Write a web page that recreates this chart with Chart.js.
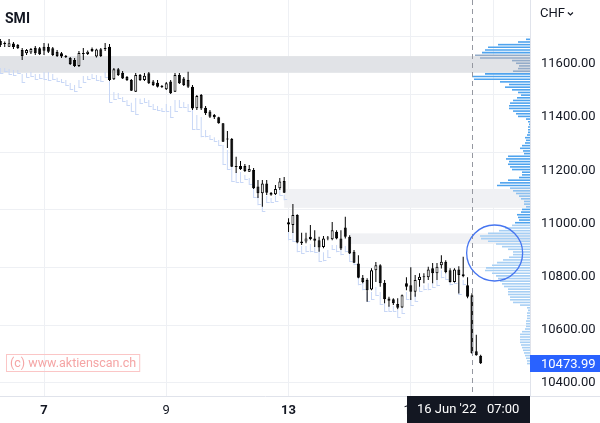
<!DOCTYPE html>
<html><head><meta charset="utf-8">
<style>html,body{margin:0;padding:0;background:#fff;}canvas{display:block;}</style>
<script src="https://cdn.jsdelivr.net/npm/chart.js@4/dist/chart.umd.min.js"></script>
</head><body>
<canvas id="c" width="600" height="423"></canvas>
<script>
// ---------------- data ----------------
const title = 'SMI';
const currency = 'CHF';
const firstIndex = -10;               // index of first candle (day 7 first candle = 0)
const xTickIdx = [0, 28, 56, 84, 103];
const xTickLabels = ['7', '9', '13', '15', '16'];
const xTickBold = [true, false, true, false, false];
const yLabelValues = [10400, 10600, 10800, 11000, 11200, 11400, 11600];
const yGridValues = [10400, 10618, 10833, 11051, 11269, 11484, 11702];

const opens = [
 11687,11679,11665,11677,11672,11653,11641,11643,11661,11659,
 11665,11664,11659,11645,11641,11628,11623,11615,11593,11638,
 11638,11657,11628,11656,11657,11665,11543,11580,11567,11551,
 11540,11496,11559,11540,11565,11534,11530,11516,11505,11534,
 11496,11559,11546,11540,11515,11434,11484,11436,11421,11408,
 11400,11377,11318,11318,11216,11216,11216,11195,11201,11139,
 11114,11151,11115,11110,11133,11160,11005,10994,11032,10932,
 10932,10950,10944,10937,10912,10944,10941,10969,10944,10985,
 10950,10894,10850,10796,10787,10752,10824,10843,10777,10718,
 10715,10697,10684,10775,10768,10743,10787,10801,10798,10832,
 10813,10843,10856,10824,10780,10827,10802,10768,10730,10519,
 10502];
const highs = [
 11694,11685,11694,11683,11675,11660,11657,11660,11668,11664,
 11679,11677,11664,11653,11645,11634,11627,11623,11649,11660,
 11651,11662,11658,11660,11679,11675,11585,11585,11574,11555,
 11544,11566,11563,11566,11570,11540,11540,11521,11532,11540,
 11566,11566,11551,11571,11521,11484,11487,11442,11427,11412,
 11402,11378,11348,11322,11251,11235,11224,11220,11209,11164,
 11164,11164,11119,11145,11171,11175,11020,11073,11035,10965,
 10965,10994,10975,10950,10953,10953,11006,10975,10975,11025,
 10956,10900,10881,10806,10794,10832,10855,10847,10787,10724,
 10719,10719,10733,10798,10835,10806,10813,10813,10837,10851,
 10851,10881,10862,10832,10832,10839,10875,10798,10738,10581,
 10506];
const lows = [
 11664,11664,11664,11657,11657,11615,11634,11638,11634,11634,
 11634,11642,11630,11627,11623,11623,11596,11589,11589,11615,
 11634,11645,11625,11627,11649,11536,11540,11555,11544,11536,
 11499,11495,11536,11536,11525,11517,11512,11510,11502,11487,
 11495,11525,11517,11510,11427,11427,11427,11408,11397,11393,
 11375,11307,11284,11213,11190,11201,11194,11194,11130,11096,
 11063,11107,11104,11107,11126,11115,10968,10964,10926,10919,
 10926,10937,10912,10894,10907,10937,10937,10941,10900,10944,
 10885,10851,10794,10775,10706,10749,10780,10762,10700,10687,
 10693,10677,10682,10749,10712,10724,10762,10775,10787,10775,
 10787,10831,10813,10778,10778,10737,10798,10719,10510,10502,
 10471];
const closes = [
 11672,11675,11678,11664,11660,11630,11653,11657,11641,11637,
 11650,11646,11634,11630,11628,11627,11600,11593,11642,11642,
 11646,11649,11655,11630,11660,11540,11580,11559,11546,11540,
 11500,11559,11540,11556,11528,11521,11515,11514,11528,11490,
 11559,11528,11521,11515,11433,11480,11433,11415,11402,11400,
 11377,11308,11316,11214,11213,11204,11198,11205,11133,11114,
 11151,11116,11108,11130,11158,11116,10996,11032,10929,10926,
 10944,10942,10935,10910,10944,10945,10975,10944,10906,10950,
 10887,10852,10796,10780,10749,10824,10843,10775,10715,10709,
 10700,10683,10730,10762,10743,10787,10800,10798,10827,10813,
 10837,10856,10818,10780,10827,10806,10809,10724,10513,10504,
 10474];
// light-blue shadow series (high / low)
const ghostHigh = [
 11585,11585,11581,11578,11578,11563,11566,11570,11563,11563,
 11570,11570,11563,11548,11544,11540,11529,11521,11540,11555,
 11555,11563,11559,11555,11570,11540,11495,11491,11476,11465,
 11454,11472,11469,11472,11465,11450,11442,11435,11450,11442,
 11465,11465,11457,11450,11427,11408,11401,11352,11333,11325,
 11314,11295,11277,11220,11194,11194,11183,11171,11134,11104,
 11096,11104,11096,11104,11126,11107,10968,10968,10926,10915,
 10915,10923,10919,10907,10892,10900,10919,10919,10907,10915,
 10889,10870,10832,10779,10742,10742,10761,10742,10705,10693,
 10690,10675,10682,10742,10720,10735,10764,10768,10775,10779,
 10787,10824,10813,10787,10794,10779,10787,null,null,null,
 null];
const ghostLow = [
 11563,11570,11559,11555,11563,11529,11548,11551,11540,11544,
 11540,11536,11540,11532,11529,11517,11502,11495,11510,11529,
 11540,11544,11536,11532,11548,11454,11465,11469,11457,11442,
 11420,11408,11450,11454,11438,11427,11423,11420,11420,11397,
 11420,11435,11435,11420,11352,11352,11325,11325,11314,11307,
 11292,11220,11201,11156,11153,11153,11164,11145,11096,11069,
 11043,11077,11077,11081,11104,11088,10937,10930,10892,10885,
 10892,10892,10889,10855,10858,10870,10900,10892,10881,10892,
 10855,10843,10768,10749,10705,10712,10727,10693,10667,10667,
 10667,10645,10660,10712,10690,10705,10742,10749,10749,10757,
 10764,10794,10787,10768,10772,10731,10768,null,null,null,
 null];

// volume profile, 10 CHF rows from 11690 downwards (relative volume)
const vpTop = 11690;
const vpStep = 10;
const vpVolume = [
 4,12,32,42,45,48,55,50,18,14,
 11,12,17,45,58,56,30,21,25,18,
 12,9,13,17,20,21,21,17,14,12,
 4,2,1,2,2,2,3,5,4,5,
 8,10,7,6,22,24,21,22,20,18,
 8,8,11,22,30,33,20,17,14,11,
 9,6,6,4,8,9,13,12,11,15,
 18,25,31,42,50,49,42,34,28,22,
 17,17,21,27,33,38,44,45,38,34,
 32,30,28,26,22,22,22,20,20,17,
 10,3,2,3,3,3,4,4,4,5,
 8,10,10,10,10,9,8,7,6,5,
 4,3,3];
const valueAreaLow = 10995;

// zones (start candle index, low, high)
const zoneStart = [-11, 55, 70];
const zoneLow = [11567, 11059, 10923];
const zoneHigh = [11630, 11130, 10963];

const lastPrice = 10473.99;
const crossIndex = 98;
const crossDate = "16 Jun '22";
const crossTime = '07:00';
const circleIndex = 103.2;
const circlePrice = 10889;
const watermark = '(c) www.aktienscan.ch';

// ---------------- styles ----------------
const FONT = 'Roboto, "Noto Sans", sans-serif';
const zoneColors = ['#e1e3e7', '#f0f1f4', '#f0f1f4'];
const ghostColor = '#c8d7f6';
const gridColor = '#eef0f4';
const textColor = '#131722';

Chart.defaults.font.family = FONT;

const idx = k => firstIndex + k;
const wickData = opens.map((o, k) => ({x: idx(k), y: [lows[k], highs[k]]}));
const bodyData = opens.map((o, k) => ({x: idx(k), y: [o, closes[k]]}));
const ghostData = [];
ghostHigh.forEach((h, k) => { if (h != null) ghostData.push({x: idx(k), y: [ghostLow[k], h]}); });
const vpData = vpVolume.map((v, k) => ({x: v, y: vpTop - k * vpStep}));

function vpColor(p) {
  if (p >= zoneLow[0] && p <= zoneHigh[0]) return '#93abc8';
  if (p >= zoneLow[1] && p <= zoneHigh[1]) return '#8cc0ef';
  if (p >= valueAreaLow) return '#4ea3ee';
  return '#a7cff4';
}

const GHOST_DS = 1;
const bandsPlugin = {
  id: 'bands',
  beforeDatasetsDraw(chart) {
    const {ctx, chartArea: a, scales: {x, y}} = chart;
    ctx.save();
    zoneStart.forEach((s, k) => {
      const left = Math.max(a.left, x.getPixelForValue(s));
      const top = y.getPixelForValue(zoneHigh[k]);
      const bot = y.getPixelForValue(zoneLow[k]);
      ctx.fillStyle = zoneColors[k];
      ctx.fillRect(left, top, a.right - left, bot - top);
    });
    ctx.restore();
  },
  afterDatasetDraw(chart, args) {
    if (args.index !== GHOST_DS) return;
    const {ctx, chartArea: a, scales: {x, y}} = chart;
    ctx.save();
    ctx.beginPath(); ctx.rect(a.left, a.top, a.right - a.left, a.bottom - a.top); ctx.clip();
    ctx.strokeStyle = ghostColor; ctx.lineWidth = 1;
    ghostHigh.forEach((h, k) => {
      if (h == null) return;
      const px = x.getPixelForValue(idx(k));
      const yl = Math.round(y.getPixelForValue(ghostLow[k])) - 0.5;
      ctx.beginPath();
      ctx.moveTo(px, yl); ctx.lineTo(px + 3, yl);
      ctx.stroke();
    });
    ctx.restore();
  },
  afterDatasetsDraw(chart) {
    const {ctx, chartArea: a, scales: {x, y}} = chart;
    ctx.save();
    // crosshair
    const cx = Math.round(x.getPixelForValue(crossIndex)) + 0.5;
    ctx.strokeStyle = '#9598a1'; ctx.lineWidth = 1; ctx.setLineDash([5, 4]);
    ctx.beginPath(); ctx.moveTo(cx, a.top); ctx.lineTo(cx, a.bottom); ctx.stroke();
    ctx.setLineDash([]);
    // circle marker
    ctx.strokeStyle = '#4675f0'; ctx.lineWidth = 1.3;
    ctx.beginPath();
    ctx.arc(x.getPixelForValue(circleIndex), y.getPixelForValue(circlePrice), 28, 0, Math.PI * 2);
    ctx.stroke();
    // watermark
    ctx.font = '12.5px ' + FONT;
    const tw = ctx.measureText(watermark).width;
    ctx.strokeStyle = '#fbc6c6'; ctx.lineWidth = 1;
    ctx.strokeRect(a.left + 6.5, a.bottom - 41.5, tw + 7, 17);
    ctx.fillStyle = '#f5a5a5'; ctx.textBaseline = 'middle'; ctx.textAlign = 'left';
    ctx.fillText(watermark, a.left + 10, a.bottom - 32.5);
    // title
    ctx.font = 'bold 14px ' + FONT; ctx.fillStyle = textColor; ctx.textBaseline = 'alphabetic';
    ctx.fillText(title, a.left + 5, 23);
    ctx.restore();
  },
  afterDraw(chart) {
    const {ctx, chartArea: a, scales: {x, y}} = chart;
    ctx.save();
    // bottom border across price axis
    ctx.strokeStyle = '#e0e3eb'; ctx.lineWidth = 1;
    ctx.beginPath(); ctx.moveTo(a.right, a.bottom + 0.5); ctx.lineTo(chart.width, a.bottom + 0.5); ctx.stroke();
    // crosshair time label
    const cx = x.getPixelForValue(crossIndex);
    const bl = Math.round(cx - 65), br = a.right;
    ctx.fillStyle = '#131722';
    ctx.fillRect(bl, a.bottom, br - bl, chart.height - a.bottom);
    ctx.fillStyle = '#ffffff'; ctx.font = '13px ' + FONT; ctx.textBaseline = 'middle'; ctx.textAlign = 'left';
    ctx.fillText(crossDate, bl + 10, a.bottom + 14);
    ctx.fillText(crossTime, bl + 80, a.bottom + 14);
    // last price label
    const py = y.getPixelForValue(lastPrice);
    ctx.fillStyle = '#2962ff';
    ctx.fillRect(a.right, Math.round(py - 8.5), chart.width - a.right, 17);
    ctx.fillStyle = '#ffffff';
    ctx.fillText(lastPrice.toFixed(2), a.right + 11, py + 1);
    // currency
    ctx.fillStyle = textColor; ctx.font = '13px ' + FONT;
    ctx.fillText(currency, a.right + 10, 14);
    const cw = ctx.measureText(currency).width;
    ctx.strokeStyle = textColor; ctx.lineWidth = 1.2;
    ctx.beginPath();
    ctx.moveTo(a.right + 13 + cw, 12.5); ctx.lineTo(a.right + 15.5 + cw, 15); ctx.lineTo(a.right + 18 + cw, 12.5);
    ctx.stroke();
    ctx.restore();
  }
};

new Chart(document.getElementById('c'), {
  type: 'bar',
  data: {
    datasets: [
      { // volume profile (horizontal bars on the price axis)
        label: 'Volume profile', indexAxis: 'y', xAxisID: 'xv', yAxisID: 'y',
        data: vpData, grouped: true, barThickness: 1.6,
        backgroundColor: c => vpColor(c.raw ? c.raw.y : 0), inflateAmount: 0, order: 6
      },
      { // shadow series
        label: 'Shadow', xAxisID: 'x', yAxisID: 'y', data: ghostData, grouped: false,
        barThickness: 1, maxBarThickness: 1, backgroundColor: ghostColor, inflateAmount: 0, order: 5
      },
      { // wicks
        label: 'Wicks', xAxisID: 'x', yAxisID: 'y', data: wickData, grouped: false,
        barThickness: 1, maxBarThickness: 1, backgroundColor: '#000000', inflateAmount: 0, order: 2
      },
      { // bodies
        label: 'SMI', xAxisID: 'x', yAxisID: 'y', data: bodyData, grouped: false,
        barThickness: 3, maxBarThickness: 3, minBarLength: 1,
        backgroundColor: c => (c.raw && c.raw.y[1] < c.raw.y[0]) ? '#000000' : '#ffffff',
        borderColor: '#000000', borderWidth: 1, borderSkipped: false, inflateAmount: 0, order: 1
      }
    ]
  },
  options: {
    responsive: false, animation: false, devicePixelRatio: 1,
    layout: { padding: 0 },
    plugins: { legend: { display: false }, tooltip: { enabled: false } },
    scales: {
      x: {
        type: 'linear', position: 'bottom', min: -10.08, max: 111.3, offset: false,
        afterBuildTicks: s => { s.ticks = xTickIdx.map(v => ({value: v})); },
        ticks: {
          callback: (v, i) => xTickLabels[i], autoSkip: false, maxRotation: 0, padding: 7, color: textColor,
          font: c => ({size: 13, family: FONT, weight: xTickBold[c.index] ? 'bold' : 'normal'})
        },
        grid: { color: gridColor, drawTicks: false, offset: false },
        border: { color: '#e0e3eb' },
        afterFit: s => { s.height = 27; s.paddingLeft = 0; s.paddingRight = 0; }
      },
      y: {
        type: 'linear', position: 'right', min: 10351, max: 11841, offset: false, beginAtZero: false,
        afterBuildTicks: s => {
          const all = Array.from(new Set(yLabelValues.concat(yGridValues))).sort((p, q) => p - q);
          s.ticks = all.map(v => ({value: v}));
        },
        ticks: {
          callback: v => yLabelValues.includes(v) ? v.toFixed(2) : '',
          autoSkip: false, padding: 11, color: textColor, font: {size: 13, family: FONT}
        },
        grid: { color: c => (c.tick && yGridValues.includes(c.tick.value)) ? gridColor : 'rgba(0,0,0,0)', drawTicks: false, offset: false },
        border: { color: '#e0e3eb' },
        afterFit: s => { s.width = 70; s.paddingTop = 0; s.paddingBottom = 0; }
      },
      xv: { type: 'linear', axis: 'x', display: false, min: 0, max: 530, reverse: true, offset: false, beginAtZero: false }
    }
  },
  plugins: [bandsPlugin]
});
</script>
</body></html>
